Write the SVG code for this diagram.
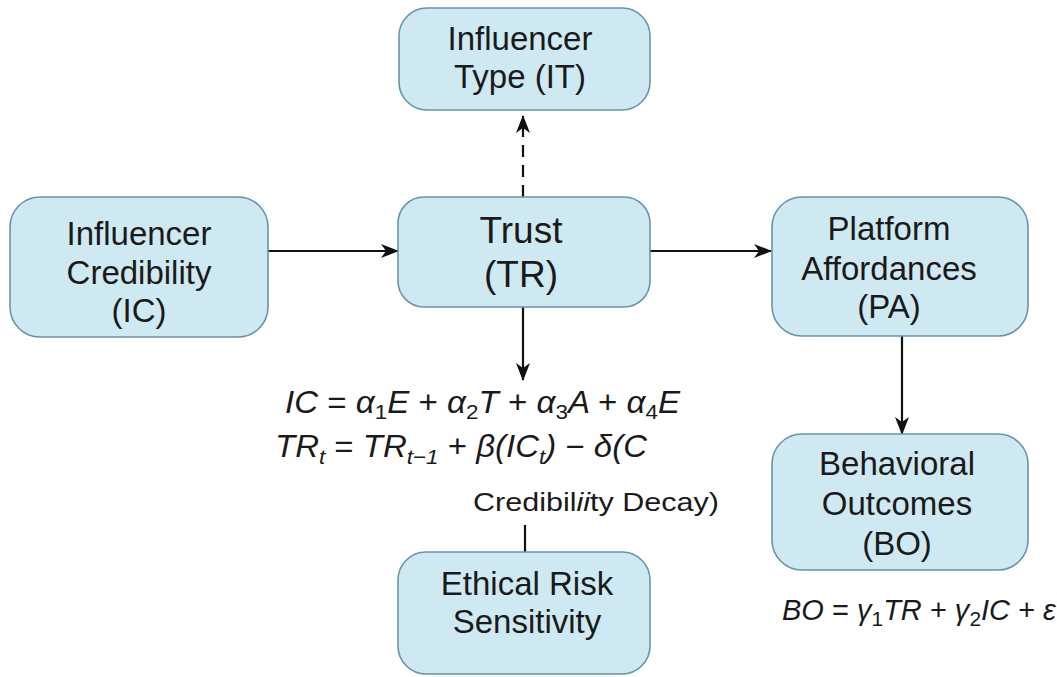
<svg xmlns="http://www.w3.org/2000/svg" width="1057" height="677" viewBox="0 0 1057 677">
<style>
.box{fill:#cfe9f3;stroke:#6a93a8;stroke-width:1.6}
.lbl{font-family:"Liberation Sans",Arial,sans-serif;font-size:33px;fill:#1a1a1a;text-anchor:middle}
.eq{font-family:"Liberation Sans",Arial,sans-serif;font-size:31px;font-style:italic;fill:#1a1a1a}
.up{font-style:normal}
.sub{font-size:21px}
.cn{stroke:#111;stroke-width:2.2;fill:none}
</style>
<defs>
<marker id="ah" markerWidth="18" markerHeight="14" refX="17" refY="7" orient="auto" markerUnits="userSpaceOnUse">
<path d="M0,0 L18,7 L0,14 L5,7 Z" fill="#111"/>
</marker>
</defs>
<rect width="1057" height="677" fill="#ffffff"/>
<g id="connectors">
<line class="cn" x1="523" y1="197" x2="523" y2="116" stroke-dasharray="12 8" marker-end="url(#ah)"/>
<line class="cn" x1="268" y1="251" x2="398" y2="251" marker-end="url(#ah)"/>
<line class="cn" x1="650" y1="251" x2="771" y2="251" marker-end="url(#ah)"/>
<line class="cn" x1="523" y1="307" x2="523" y2="380" marker-end="url(#ah)"/>
<line class="cn" x1="902" y1="336" x2="902" y2="434" marker-end="url(#ah)"/>
<line class="cn" x1="525" y1="525" x2="525" y2="552"/>
</g>
<g id="node-it">
<rect class="box" x="399" y="8" width="251" height="102" rx="28"/>
<text class="lbl" x="520" y="50">Influencer</text>
<text class="lbl" x="520" y="88">Type (IT)</text>
</g>
<g id="node-ic">
<rect class="box" x="10" y="197" width="258" height="140" rx="30"/>
<text class="lbl" x="139" y="245">Influencer</text>
<text class="lbl" x="139" y="284">Credibility</text>
<text class="lbl" x="139" y="322">(IC)</text>
</g>
<g id="node-tr">
<rect class="box" x="398" y="197" width="252" height="110" rx="26"/>
<text class="lbl" x="521" y="243" style="font-size:37px">Trust</text>
<text class="lbl" x="521" y="287" style="font-size:37px">(TR)</text>
</g>
<g id="node-pa">
<rect class="box" x="772" y="197" width="256" height="139" rx="30"/>
<text class="lbl" x="889" y="240">Platform</text>
<text class="lbl" x="889" y="280">Affordances</text>
<text class="lbl" x="889" y="318">(PA)</text>
</g>
<g id="node-bo">
<rect class="box" x="772" y="434" width="256" height="136" rx="30"/>
<text class="lbl" x="897" y="475">Behavioral</text>
<text class="lbl" x="897" y="515">Outcomes</text>
<text class="lbl" x="897" y="555">(BO)</text>
</g>
<g id="node-er">
<rect class="box" x="398" y="552" width="252" height="122" rx="28"/>
<text class="lbl" x="527" y="595">Ethical Risk</text>
<text class="lbl" x="527" y="633">Sensitivity</text>
</g>
<g id="formulas">
<text class="eq" x="285" y="413" textLength="395" lengthAdjust="spacingAndGlyphs">IC <tspan class="up">=</tspan> α<tspan class="sub up" dy="6">1</tspan><tspan dy="-6">E </tspan><tspan class="up">+</tspan> α<tspan class="sub up" dy="6">2</tspan><tspan dy="-6">T </tspan><tspan class="up">+</tspan> α<tspan class="sub up" dy="6">3</tspan><tspan dy="-6">A </tspan><tspan class="up">+</tspan> α<tspan class="sub up" dy="6">4</tspan><tspan dy="-6">E</tspan></text>
<text class="eq" x="275" y="457" textLength="372" lengthAdjust="spacingAndGlyphs">TR<tspan class="sub" dy="7">t</tspan><tspan dy="-7" class="up"> = </tspan>TR<tspan class="sub" dy="7">t−1</tspan><tspan dy="-7" class="up"> + </tspan>β(IC<tspan class="sub" dy="7">t</tspan><tspan dy="-7">) </tspan><tspan class="up">−</tspan> δ(C</text>
<text class="eq up" x="473" y="511" style="font-style:normal;font-size:26px" textLength="246" lengthAdjust="spacingAndGlyphs">Credibil<tspan style="font-style:italic">ii</tspan>ty Decay)</text>
<text class="eq" x="782" y="620" style="font-size:29px">BO <tspan class="up">=</tspan> γ<tspan class="sub up" dy="6">1</tspan><tspan dy="-6">TR </tspan><tspan class="up">+</tspan> γ<tspan class="sub up" dy="6">2</tspan><tspan dy="-6">IC </tspan><tspan class="up">+</tspan> ε</text>
</g>
</svg>
